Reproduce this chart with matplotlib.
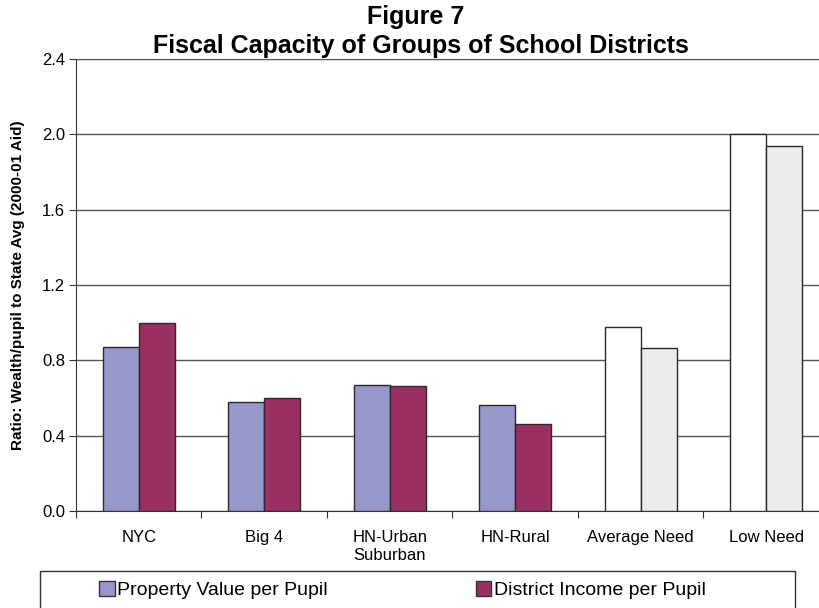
import numpy as np
import matplotlib.pyplot as plt
from matplotlib.patches import Patch, Rectangle

plt.rcParams['font.family'] = ['Liberation Sans', 'DejaVu Sans']

categories = ["NYC", "Big 4", "HN-Urban\nSuburban", "HN-Rural", "Average Need", "Low Need"]
property_value = [0.87, 0.58, 0.67, 0.565, 0.975, 2.0]
district_income = [1.0, 0.60, 0.665, 0.462, 0.868, 1.94]
yticks = [0.0, 0.4, 0.8, 1.2, 1.6, 2.0, 2.4]

prop_colors = ['#9797c9'] * 4 + ['white'] * 2
inc_colors = ['#992f62'] * 4 + ['#ececec'] * 2

fig = plt.figure(figsize=(8.2, 6.08), dpi=100)
ax = fig.add_axes([76 / 820, 97 / 608, 753 / 820, 452 / 608])

x = np.arange(len(categories))
w = 0.287
ax.bar(x - w / 2, property_value, w, color=prop_colors, edgecolor='#2a2a2a', linewidth=1, zorder=3)
ax.bar(x + w / 2, district_income, w, color=inc_colors, edgecolor='#2a2a2a', linewidth=1, zorder=3)

ax.set_xlim(-0.5, len(categories) - 0.5)
ax.set_ylim(0, 2.4)
ax.set_yticks(yticks)
ax.set_yticklabels([f"{v:.1f}" for v in yticks], fontsize=12)
ax.yaxis.grid(True, color='#555555', linewidth=1, zorder=0)

ax.set_xticks(np.arange(len(categories) + 1) - 0.5)
ax.set_xticklabels([])
ax.set_xticks(x, minor=True)
ax.set_xticklabels(categories, minor=True, fontsize=12)
ax.tick_params(axis='x', which='minor', length=0, pad=14)
ax.tick_params(axis='x', which='major', length=5, color='#333333')
ax.tick_params(axis='y', length=5, color='#333333', pad=3)

ax.spines['right'].set_visible(False)
ax.spines['top'].set_color('#555555')
ax.spines['left'].set_color('#333333')
ax.spines['bottom'].set_color('#333333')

ax.set_ylabel("Ratio: Wealth/pupil to State Avg (2000-01 Aid)", fontsize=11,
              fontweight='bold', labelpad=12)

fig.text(416 / 820, 1 - 17 / 608, "Figure 7", ha='center', va='center', fontsize=18, fontweight='bold')
fig.text(421 / 820, 1 - 46 / 608, "Fiscal Capacity of Groups of School Districts",
         ha='center', va='center', fontsize=18, fontweight='bold')

# legend frame + legend
fig.patches.append(Rectangle((40 / 820, -0.02), 755 / 820, (37 / 608) + 0.02,
                             transform=fig.transFigure, fill=False,
                             edgecolor='#333333', linewidth=1))
handles = [Patch(facecolor='#9797c9', edgecolor='#333333', label='Property Value per Pupil'),
           Patch(facecolor='#992f62', edgecolor='#333333', label='District Income per Pupil')]
fig.legend(handles=handles, ncol=2, frameon=False, fontsize=14,
           bbox_to_anchor=(99 / 820, 1 - 590 / 608), loc='center left',
           handlelength=0.8, handleheight=0.8, handletextpad=0.15, columnspacing=7.6,
           borderpad=0, borderaxespad=0)

fig.savefig("out.png", dpi=100)
